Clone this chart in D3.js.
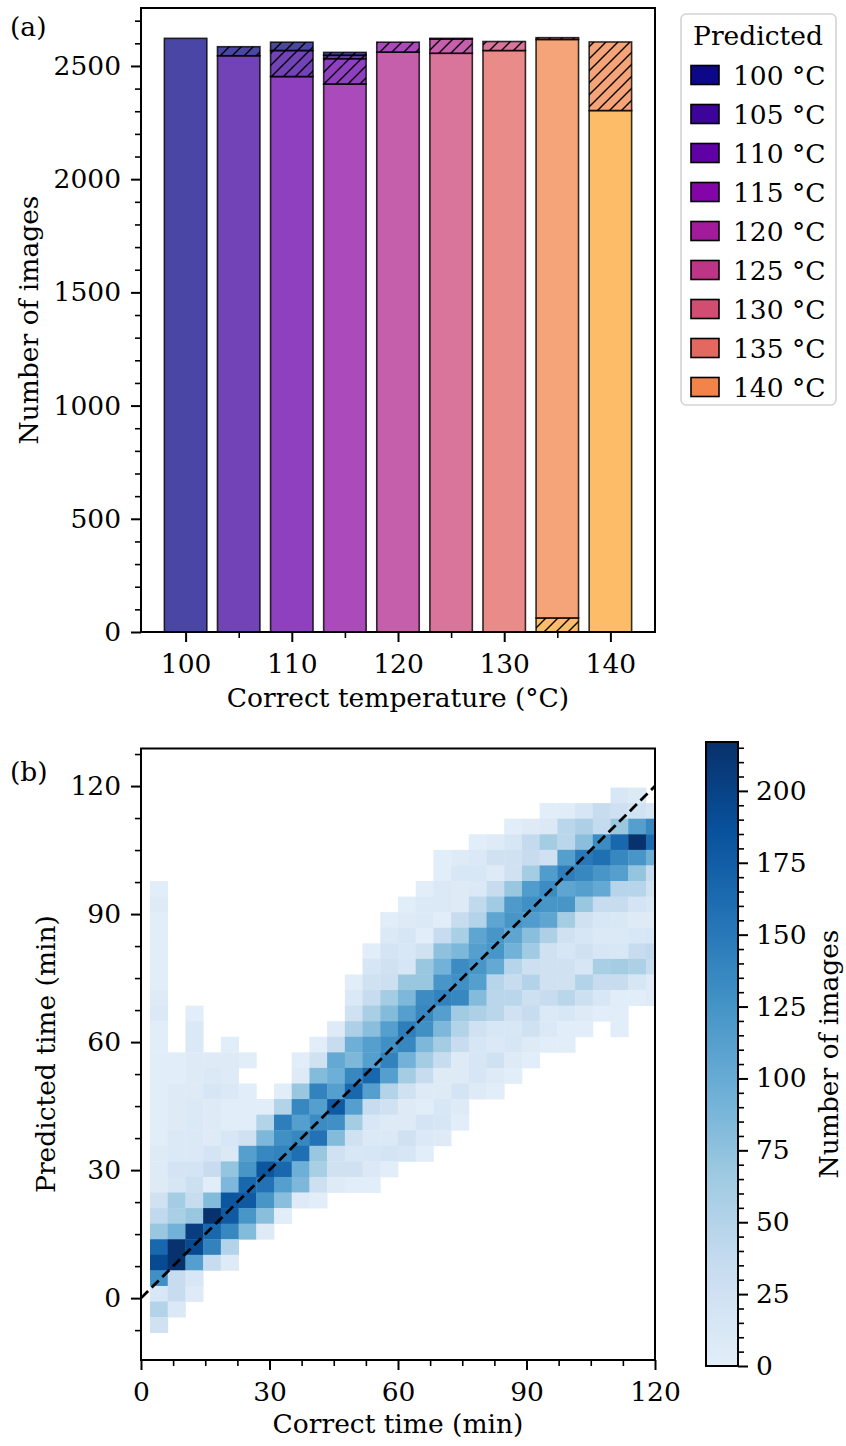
<!DOCTYPE html>
<html>
<head>
<meta charset="utf-8">
<script src="https://cdn.jsdelivr.net/npm/d3@7"></script>
<style>
  body { margin: 0; background: #fff; }
  text { font-family: "DejaVu Serif", serif; fill: #000; }
</style>
</head>
<body>
<div id="chart"></div>
<script>
// ---------- panel (a): stacked bars ----------
const TEMPS = [100, 105, 110, 115, 120, 125, 130, 135, 140];
// images per correct temperature (index into TEMPS), one array per predicted temperature
const PRED_100 = [2622, 40, 37, 13, 0, 0, 0, 0, 0];
const PRED_105 = [0, 2545, 115, 15, 0, 0, 0, 0, 0];
const PRED_110 = [0, 0, 2453, 112, 0, 0, 0, 0, 0];
const PRED_115 = [0, 0, 0, 2420, 44, 3, 0, 0, 0];
const PRED_120 = [0, 0, 0, 0, 2561, 63, 0, 0, 0];
const PRED_125 = [0, 0, 0, 0, 0, 2556, 40, 0, 0];
const PRED_130 = [0, 0, 0, 0, 0, 0, 2568, 8, 0];
const PRED_135 = [0, 0, 0, 0, 0, 0, 0, 2555, 303];
const PRED_140 = [0, 0, 0, 0, 0, 0, 0, 62, 2303];
const COUNT_TICKS = [0, 500, 1000, 1500, 2000, 2500];
const TEMP_TICKS = [100, 110, 120, 130, 140];

// ---------- panel (b): 2d histogram ----------
const TIME_TICKS = [0, 30, 60, 90, 120];
const CBAR_TICKS = [0, 25, 50, 75, 100, 125, 150, 175, 200];
const VMAX = 217;
const X_EDGES = [2.1, 6.24, 10.37, 14.51, 18.64, 22.78, 26.91, 31.05, 35.18, 39.32, 43.45, 47.59, 51.72, 55.86,
  59.99, 64.13, 68.26, 72.4, 76.53, 80.67, 84.8, 88.94, 93.07, 97.21, 101.34, 105.48, 109.61, 113.75, 117.88, 122.02];
const Y_EDGES = [-8.1, -4.45, -0.8, 2.85, 6.5, 10.15, 13.8, 17.45, 21.1, 24.75, 28.4, 32.05, 35.7, 39.35, 43.0,
  46.65, 50.3, 53.95, 57.6, 61.25, 64.9, 68.55, 72.2, 75.85, 79.5, 83.15, 86.8, 90.45, 94.1, 97.75, 101.4,
  105.05, 108.7, 112.35, 116.0, 119.65];
// counts, first row = highest predicted-time bin, columns follow X_EDGES
const COUNTS = [
  [0,0,0,0,0,0,0,0,0,0, 0,0,0,0,0,0,0,0,0,0, 0,0,0,0,0,0,14,8,0],
  [0,0,0,0,0,0,0,0,0,0, 0,0,0,0,0,0,0,0,0,0, 0,0,3,4,15,34,26,22,15],
  [0,0,0,0,0,0,0,0,0,0, 0,0,0,0,0,0,0,0,0,0, 3,6,10,45,55,38,69,113,137],
  [0,0,0,0,0,0,0,0,0,0, 0,0,0,0,0,0,0,0,3,6, 15,38,62,45,79,132,166,215,163],
  [0,0,0,0,0,0,0,0,0,0, 0,0,0,0,0,0,3,6,10,24, 24,34,24,113,149,159,137,122,95],
  [0,0,0,0,0,0,0,0,0,0, 0,0,0,0,0,0,3,13,13,6, 24,62,116,145,137,122,113,72,34],
  [3,0,0,0,0,0,0,0,0,0, 0,0,0,0,0,3,10,6,10,34, 69,116,132,106,113,102,48,48,24],
  [6,0,0,0,0,0,0,0,0,0, 0,0,0,0,3,10,10,6,40,65, 118,128,122,122,69,34,34,19,13],
  [3,0,0,0,0,0,0,0,0,0, 0,0,0,3,6,10,3,34,51,106, 122,116,106,62,24,13,12,6,6],
  [3,0,0,0,0,0,0,0,0,0, 0,0,0,10,15,3,34,58,106,122, 106,79,55,24,15,10,10,13,15],
  [3,0,0,0,0,0,0,0,0,0, 0,0,3,19,13,24,76,86,113,122, 92,65,24,15,24,15,13,34,40],
  [3,0,0,0,0,0,0,0,0,0, 0,0,15,24,15,69,92,132,122,102, 48,27,24,24,15,58,62,55,34],
  [3,0,0,0,0,0,0,0,0,0, 0,3,24,27,69,69,122,128,113,48, 34,51,24,24,51,34,34,15,6],
  [6,0,0,0,0,0,0,0,0,0, 0,10,34,62,86,132,141,137,82,45, 45,27,34,45,27,13,3,3,6],
  [10,0,3,0,0,0,0,0,0,0, 0,24,58,82,113,137,113,65,55,45, 24,34,10,13,6,3,3,0,0],
  [3,0,10,0,0,0,0,0,0,0, 6,55,79,113,145,128,86,51,24,13, 13,24,10,3,3,0,3,0,0],
  [3,0,10,0,3,0,0,0,0,3, 34,95,113,128,137,86,62,34,15,10, 15,6,3,3,0,0,0,0,0],
  [3,3,6,6,6,3,0,0,3,24, 102,86,113,141,92,62,34,6,15,24, 6,3,0,0,0,0,0,0,0],
  [3,3,6,10,6,0,0,0,6,82, 95,137,166,113,62,34,6,6,15,6, 3,0,0,0,0,0,0,0,0],
  [3,6,6,15,10,3,0,3,69,141, 113,166,113,51,24,6,6,19,6,3, 0,0,0,0,0,0,0,0,0],
  [3,6,10,6,3,3,3,51,137,113, 178,113,34,24,6,3,13,6,0,0, 0,0,0,0,0,0,0,0,0],
  [3,6,10,6,3,3,51,145,113,132, 128,62,13,6,6,19,15,3,0,0, 0,0,0,0,0,0,0,0,0],
  [3,10,10,6,13,24,86,128,137,156, 82,24,10,10,24,10,6,0,0,0, 0,0,0,0,0,0,0,0,0],
  [6,10,10,19,10,113,137,141,159,69, 24,13,15,19,15,3,0,0,0,0, 0,0,0,0,0,0,0,0,0],
  [6,19,19,34,72,122,182,166,95,58, 24,24,10,3,0,0,0,0,0,0, 0,0,0,0,0,0,0,0,0],
  [6,15,27,3,86,166,156,113,86,27, 6,3,3,0,0,0,0,0,0,0, 0,0,0,0,0,0,0,0,0],
  [24,62,34,82,182,178,122,79,6,3, 0,0,0,0,0,0,0,0,0,0, 0,0,0,0,0,0,0,0,0],
  [40,58,69,215,178,122,79,3,0,0, 0,0,0,0,0,0,0,0,0,0, 0,0,0,0,0,0,0,0,0],
  [69,92,205,166,137,82,6,0,0,0, 0,0,0,0,0,0,0,0,0,0, 0,0,0,0,0,0,0,0,0],
  [166,215,193,141,51,0,0,0,0,0, 0,0,0,0,0,0,0,0,0,0, 0,0,0,0,0,0,0,0,0],
  [193,215,113,34,6,0,0,0,0,0, 0,0,0,0,0,0,0,0,0,0, 0,0,0,0,0,0,0,0,0],
  [128,34,13,0,0,0,0,0,0,0, 0,0,0,0,0,0,0,0,0,0, 0,0,0,0,0,0,0,0,0],
  [13,34,6,0,0,0,0,0,0,0, 0,0,0,0,0,0,0,0,0,0, 0,0,0,0,0,0,0,0,0],
  [51,10,0,0,0,0,0,0,0,0, 0,0,0,0,0,0,0,0,0,0, 0,0,0,0,0,0,0,0,0],
  [24,0,0,0,0,0,0,0,0,0, 0,0,0,0,0,0,0,0,0,0, 0,0,0,0,0,0,0,0,0]
];

const W = 846, H = 1446;
const FS = 26.5;
const svg = d3.select("#chart").append("svg")
  .attr("width", W).attr("height", H)
  .style("background", "#fff");
const defs = svg.append("defs");

defs.append("pattern")
  .attr("id", "hatch")
  .attr("patternUnits", "userSpaceOnUse")
  .attr("width", 12).attr("height", 12)
  .append("path")
  .attr("d", "M-3,3 L3,-3 M0,12 L12,0 M9,15 L15,9")
  .attr("stroke", "#000").attr("stroke-width", 1.4);

// draw left/bottom ticks (major + minor) and restyle d3's axis output
function ticks(g, axis, values, minor, size) {
  const a = g.append("g").call(axis.tickValues(values).tickSize(size.major).tickPadding(size.pad));
  a.select(".domain").remove();
  a.selectAll("line").attr("stroke-width", 2);
  a.selectAll("text").attr("font-family", "DejaVu Serif").attr("font-size", FS).attr("fill", "#000");
  if (minor) {
    const m = g.append("g").call(axis.tickValues(minor).tickSize(size.minor).tickFormat(""));
    m.select(".domain").remove();
    m.selectAll("line").attr("stroke-width", 1.6);
  }
  return a;
}

// ================= panel (a) =================
const ax = d3.scaleLinear([95.8, 144.2], [141, 655]);
const ay = d3.scaleLinear([0, 2756], [632, 8]);

const PRED = {100: PRED_100, 105: PRED_105, 110: PRED_110, 115: PRED_115, 120: PRED_120,
              125: PRED_125, 130: PRED_130, 135: PRED_135, 140: PRED_140};
const barColor = p => d3.interpolatePlasma(0.1 * TEMPS.indexOf(p));
const legendColor = p => d3.interpolatePlasma(0.0875 * TEMPS.indexOf(p));

const rows = TEMPS.map((t, i) => {
  const o = {correct: t};
  TEMPS.forEach(p => { o[p] = PRED[p][i]; });
  return o;
});
const layers = d3.stack().keys(TEMPS.slice().reverse())(rows);

const ga = svg.append("g");
const bw = ax(4) - ax(0);
layers.forEach(layer => {
  const p = +layer.key;
  layer.forEach(d => {
    if (d[1] - d[0] <= 0) return;
    const c = d.data.correct;
    const x0 = ax(c - 2), y1 = ay(d[1]), h = ay(d[0]) - ay(d[1]);
    ga.append("rect").attr("x", x0).attr("y", y1).attr("width", bw).attr("height", h)
      .attr("fill", barColor(p)).attr("fill-opacity", 0.75);
    if (p !== c) {
      ga.append("rect").attr("x", x0).attr("y", y1).attr("width", bw).attr("height", h)
        .attr("fill", "url(#hatch)");
    }
    ga.append("rect").attr("x", x0).attr("y", y1).attr("width", bw).attr("height", h)
      .attr("fill", "none").attr("stroke", "#000").attr("stroke-opacity", 0.8).attr("stroke-width", 1.6);
  });
});

const aMinorY = d3.range(100, 2701, 100).filter(v => v % 500 !== 0);
ticks(svg.append("g").attr("transform", "translate(141,0)"), d3.axisLeft(ay).tickFormat(d3.format("d")),
  COUNT_TICKS, aMinorY, {major: 10, minor: 6, pad: 10});
ticks(svg.append("g").attr("transform", "translate(0,632)"), d3.axisBottom(ax).tickFormat(d3.format("d")),
  TEMP_TICKS, [105, 115, 125, 135], {major: 10, minor: 6, pad: 12});
svg.append("rect").attr("x", 141).attr("y", 8).attr("width", 514).attr("height", 624)
  .attr("fill", "none").attr("stroke", "#000").attr("stroke-width", 2);

svg.append("text").attr("x", 10).attr("y", 36).attr("font-size", FS).text("(a)");
svg.append("text").attr("x", 398).attr("y", 707).attr("text-anchor", "middle")
  .attr("font-size", FS).text("Correct temperature (°C)");
svg.append("text").attr("transform", "translate(38,320) rotate(-90)").attr("text-anchor", "middle")
  .attr("font-size", FS).text("Number of images");

// legend
const lg = svg.append("g");
lg.append("rect").attr("x", 681).attr("y", 14).attr("width", 155).attr("height", 391)
  .attr("rx", 5).attr("fill", "#fff").attr("stroke", "#d4d4d4").attr("stroke-width", 1.6);
lg.append("text").attr("x", 758).attr("y", 45).attr("text-anchor", "middle")
  .attr("font-size", FS).text("Predicted");
TEMPS.forEach((t, i) => {
  const cy = 75 + 39 * i;
  lg.append("rect").attr("x", 691).attr("y", cy - 9.5).attr("width", 28).attr("height", 19)
    .attr("fill", legendColor(t)).attr("stroke", "#000").attr("stroke-width", 1.6);
  lg.append("text").attr("x", 733).attr("y", cy + 9.5).attr("font-size", FS).text(t + " °C");
});

// ================= panel (b) =================
const bx = d3.scaleLinear([0, 120], [141, 655]);
const by = d3.scaleLinear([-14.5, 128.8], [1360, 748.5]);
const BLUES = ["#f7fbff", "#deebf7", "#c6dbef", "#9ecae1", "#6baed6", "#4292c6", "#2171b5", "#08519c", "#08306b"];
const blues = d3.scaleLinear().domain(BLUES.map((c, i) => i / 8)).range(BLUES).interpolate(d3.interpolateRgb);
const color = v => blues(0.1 + 0.9 * Math.min(v, VMAX) / VMAX);

defs.append("clipPath").attr("id", "clipb").append("rect")
  .attr("x", 141).attr("y", 748.5).attr("width", 514).attr("height", 611.5);

const gb = svg.append("g").attr("clip-path", "url(#clipb)");
const nRows = COUNTS.length;
const cells = [];
COUNTS.forEach((row, r) => {
  const j = nRows - 1 - r;
  row.forEach((v, c) => {
    if (v > 0) cells.push({x0: X_EDGES[c], x1: X_EDGES[c + 1], y0: Y_EDGES[j], y1: Y_EDGES[j + 1], v});
  });
});
gb.selectAll("rect.cell").data(cells).join("rect").attr("class", "cell")
  .attr("x", d => bx(d.x0)).attr("y", d => by(d.y1))
  .attr("width", d => bx(d.x1) - bx(d.x0) + 0.4).attr("height", d => by(d.y0) - by(d.y1) + 0.4)
  .attr("fill", d => color(d.v));
gb.append("line").attr("x1", bx(0)).attr("y1", by(0)).attr("x2", bx(120)).attr("y2", by(120))
  .attr("stroke", "#000").attr("stroke-width", 2.8).attr("stroke-dasharray", "10,5");

const bMinor = [-7.5, 7.5, 15, 22.5, 37.5, 45, 52.5, 67.5, 75, 82.5, 97.5, 105, 112.5, 127.5];
ticks(svg.append("g").attr("transform", "translate(141,0)"), d3.axisLeft(by).tickFormat(d3.format("d")),
  TIME_TICKS, bMinor, {major: 10, minor: 6, pad: 10});
ticks(svg.append("g").attr("transform", "translate(0,1360)"), d3.axisBottom(bx).tickFormat(d3.format("d")),
  TIME_TICKS, bMinor.filter(v => v > 0 && v < 120), {major: 10, minor: 6, pad: 12});
svg.append("rect").attr("x", 141).attr("y", 748.5).attr("width", 514).attr("height", 611.5)
  .attr("fill", "none").attr("stroke", "#000").attr("stroke-width", 2);

svg.append("text").attr("x", 10).attr("y", 781).attr("font-size", FS).text("(b)");
svg.append("text").attr("x", 398).attr("y", 1433).attr("text-anchor", "middle")
  .attr("font-size", FS).text("Correct time (min)");
svg.append("text").attr("transform", "translate(55,1054) rotate(-90)").attr("text-anchor", "middle")
  .attr("font-size", FS).text("Predicted time (min)");

// colorbar
const cb = d3.scaleLinear([0, VMAX], [1366, 742]);
const grad = defs.append("linearGradient").attr("id", "cbgrad")
  .attr("x1", 0).attr("y1", 1).attr("x2", 0).attr("y2", 0);
d3.range(0, 1.0001, 0.02).forEach(t => {
  grad.append("stop").attr("offset", t).attr("stop-color", color(t * VMAX));
});
svg.append("rect").attr("x", 706).attr("y", 742).attr("width", 32).attr("height", 624)
  .attr("fill", "url(#cbgrad)");
const cbMinor = d3.range(5, VMAX, 5).filter(v => v % 25 !== 0);
ticks(svg.append("g").attr("transform", "translate(738,0)"), d3.axisRight(cb).tickFormat(d3.format("d")),
  CBAR_TICKS, cbMinor, {major: 10, minor: 6, pad: 8});
svg.append("rect").attr("x", 706).attr("y", 742).attr("width", 32).attr("height", 624)
  .attr("fill", "none").attr("stroke", "#000").attr("stroke-width", 2);
svg.append("text").attr("transform", "translate(838,1054) rotate(-90)").attr("text-anchor", "middle")
  .attr("font-size", FS).text("Number of images");
</script>
</body>
</html>
